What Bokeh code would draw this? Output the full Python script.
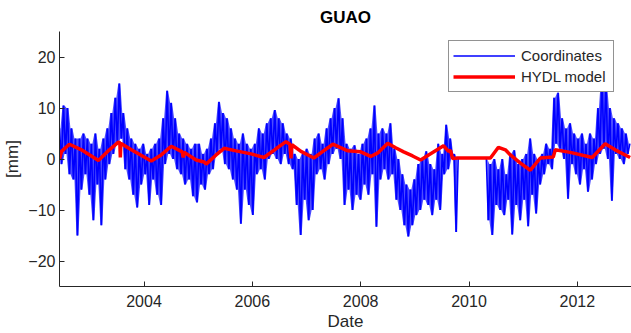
import numpy as np
from bokeh.plotting import figure
from bokeh.models import FixedTicker, Range1d
from bokeh.embed import file_html
from bokeh.resources import INLINE

# ---- data ----
blue_a_start = 2002.44   # first daily-coordinate segment (before the 2009/10 gap)
blue_b_start = 2010.32   # second segment (after the gap)
blue_step = 0.0368       # years between samples (alternating high / low readings)

blue_a = [
    6, -1, 10.5, 1, 10, -3, 6, -4, 4, -15,
    4, -6, 5, -3, 4, -7, 3, -12, 5, -5,
    2, -13, 4, -4, 6, -1, 9, 1, 12, 3,
    14.8, 4, 9, -2, 6, -4, 4, -7, 3, -9.5,
    2, -5, 3, -3, 1, -9, 2, -4, 3, -7,
    4, -9, 8, -1, 13.4, 1, 11, 0, 8, -2,
    5, -3, 4, -5, 3, -4, 2, -7.3, 3, -8.5,
    3, -5, 1, -6, 2, -3, 4, -2, 7, 1,
    11.2, 2, 9, -1, 8, -2, 6, -4, 4, -6,
    3, -12.7, 5, -6, 3, -9, 2, -11, 3, -3,
    6, -2, 5, -4, 7, 0, 8, 1, 9.6, 0,
    8, -1, 7, 1, 5, -1, 4, -2, 1, -9,
    0, -14.9, 1, -8, 2, -12, 1, -10, 4, -3,
    5, -2, 3, -4, 6, -1, 8, 1, 10, 2,
    11.9, 0, 8, -9, 3, -6, 2, -10, 2.7, -7,
    1, -8, 3, -5, 4, -7, 6, -3, 10.5, -13.3,
    5, -4, 6, -2, 5, -4, 7, -3, 2, -8,
    0, -10, -3, -13, -5, -15.2, -6, -13, -4, -11,
    -1, -10, 0, -8, 1.5, -9, -1, -11, -2, -8,
    3, -10, 1, -3, 6.7, -2, 4, 0, 1, -14.3,
    0,
]
blue_b = [
    0, -12, -1, -14.9, 0, -9, -2, -10, 0, -11,
    -3, -8, 1, -14.8, 1.7, -9, -1, -12, 0, -8,
    1, -13.2, 4, -7, 1, -10.7, 0, -5, 1, -3,
    3, -1, 2, -2, 12, 3, 13, 2, 8, 0,
    6, -7.8, 7, -1, 5, -3, 4, -5, 5, -2,
    3, -6.4, 5, -4, 4, -1, 10, 1, 16, 2,
    15, 0, 10, -8.2, 8, 1, 7, 0, 6, -1,
    5, 1, 3,
]

red_years = [
    2002.440, 2002.477, 2002.624, 2002.845, 2003.158, 2003.361, 2003.527,
    2003.554, 2003.563, 2003.573, 2003.600, 2003.766, 2004.134, 2004.318,
    2004.503, 2004.705, 2004.724, 2004.742, 2004.760, 2004.963, 2005.110,
    2005.147, 2005.331, 2005.479, 2005.700, 2005.976, 2006.215, 2006.436,
    2006.621, 2006.694, 2006.713, 2006.731, 2006.897, 2007.136, 2007.302,
    2007.486, 2007.762, 2008.002, 2008.186, 2008.315, 2008.499, 2008.646,
    2008.794, 2008.959, 2009.107, 2009.254, 2009.530, 2009.622, 2009.659,
    2009.696, 2009.788, 2010.396, 2010.543, 2010.672, 2010.764, 2010.949,
    2011.133, 2011.317, 2011.556, 2011.593, 2011.869, 2012.274, 2012.514,
    2012.698, 2012.974,
]
red_values = [
    0.0, 1.5, 2.9, 1.8, -0.3, 1.8, 3.3,
    3.2, 0.3, 3.0, 2.9, 1.8, -0.4, 0.8,
    2.5, 1.4, 0.3, 1.3, 1.2, -0.2, -0.6,
    -1.0, 0.8, 2.1, 1.6, 1.0, 0.3, 2.0,
    3.4, 2.9, 0.1, 2.8, 1.5, 0.2, 1.5,
    2.9, 1.6, 1.4, 0.5, 1.2, 3.1, 2.2,
    1.4, 0.6, -0.2, 0.8, 2.6, 1.5, 1.7,
    0.1, 0.2, 0.2, 2.3, 1.8, 0.8, -0.8,
    -2.2, 0.2, 0.4, 1.8, 1.3, 0.3, 3.0,
    1.8, 0.3,
]

x_ticks = [2004, 2006, 2008, 2010, 2012]
y_ticks = [-20, -10, 0, 10, 20]

# ---- build ----
def series(start, vals):
    v = np.array(vals, float)
    t = start + blue_step * np.arange(len(v))
    return t, v

t_a, v_a = series(blue_a_start, blue_a)
t_b, v_b = series(blue_b_start, blue_b)
t_blue = np.concatenate([t_a, [np.nan], t_b])
v_blue = np.concatenate([v_a, [np.nan], v_b])

def band(t, v):
    # successive high/low readings -> dense band between them
    n = len(v) - 1
    tm = 0.5 * (t[:n] + t[1:n + 1])
    hi = np.maximum(v[:n], v[1:n + 1])
    lo = np.minimum(v[:n], v[1:n + 1])
    return tm, lo, hi

FONT = "Liberation Sans"
AX = "#262626"

p = figure(width=631, height=333, output_backend="svg", toolbar_location=None,
           x_range=Range1d(2002.44, 2013.0), y_range=Range1d(-25, 25),
           min_border_left=58, min_border_right=0, min_border_top=31,
           min_border_bottom=45, title="GUAO")

for t, v in ((t_a, v_a), (t_b, v_b)):
    tm, lo, hi = band(t, v)
    p.varea(x=tm, y1=lo, y2=hi, fill_color="#0000FF", fill_alpha=0.7)

p.line(t_blue, v_blue, line_color="#0000FF", line_width=1.6, legend_label="Coordinates")
p.line(red_years, red_values, line_color="#FF0000", line_width=3.5, legend_label="HYDL model")

p.title.align = "center"
p.title.text_font = FONT
p.title.text_font_size = "17px"
p.title.text_font_style = "bold"
p.title.text_color = "black"

p.outline_line_color = None
p.xgrid.visible = False
p.ygrid.visible = False
p.background_fill_color = "white"
p.border_fill_color = "white"

for ax in (p.xaxis[0], p.yaxis[0]):
    ax.axis_line_color = AX
    ax.major_tick_line_color = AX
    ax.major_tick_in = 5
    ax.major_tick_out = 0
    ax.minor_tick_line_color = None
    ax.major_label_text_font = FONT
    ax.major_label_text_font_size = "16px"
    ax.major_label_text_color = AX
    ax.axis_label_text_font = FONT
    ax.axis_label_text_font_size = "17px"
    ax.axis_label_text_font_style = "normal"
    ax.axis_label_text_color = AX

p.xaxis[0].ticker = FixedTicker(ticks=x_ticks)
p.yaxis[0].ticker = FixedTicker(ticks=y_ticks)
p.xaxis[0].axis_label = "Date"
p.yaxis[0].axis_label = "[mm]"
p.xaxis[0].major_label_standoff = 8
p.xaxis[0].axis_label_standoff = 2
p.yaxis[0].major_label_standoff = 4
p.yaxis[0].axis_label_standoff = 3

lg = p.legend[0]
lg.location = (389, 194)
lg.margin = 0
lg.padding = 4
lg.spacing = 0
lg.glyph_width = 62
lg.glyph_height = 21
lg.label_height = 21
lg.label_standoff = 6
lg.label_width = 88
lg.label_text_font = FONT
lg.label_text_font_size = "15px"
lg.label_text_color = AX
lg.border_line_color = AX
lg.border_line_width = 1
lg.background_fill_color = "white"
lg.background_fill_alpha = 1.0

open("out.html", "w").write(file_html(p, INLINE))
